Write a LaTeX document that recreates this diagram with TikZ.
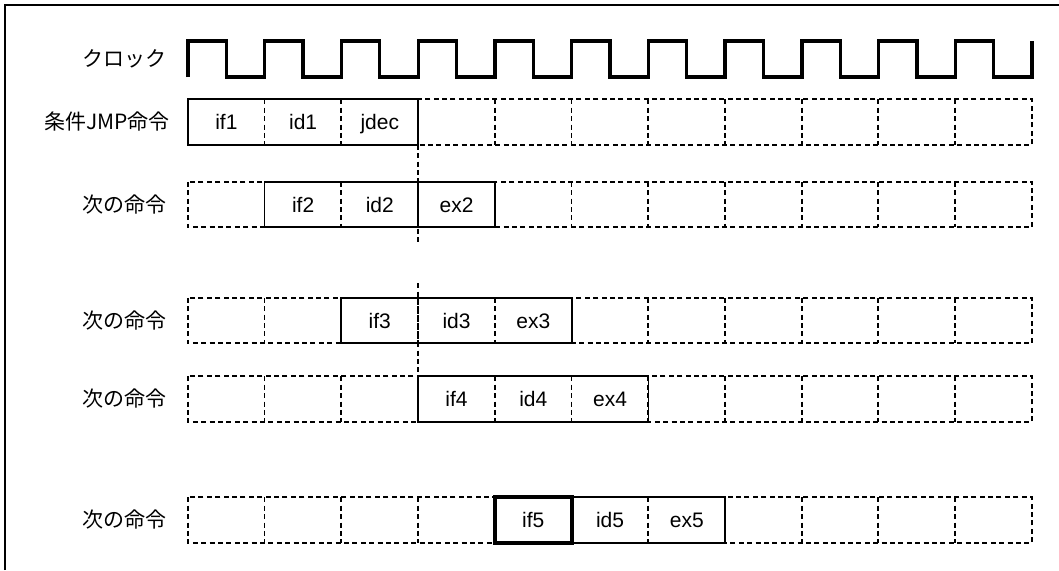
\documentclass[tikz,border=0pt]{standalone}
\usepackage{fontspec}
\usetikzlibrary{calc}
\setmainfont{Liberation Sans}
\newfontfamily\jp{Noto Sans CJK JP}
\begin{document}
\begin{tikzpicture}[x=1pt,y=-1pt,
  cell/.style={minimum width=76.73pt, minimum height=45pt, inner sep=0pt},
  dashline/.style={draw, dash pattern=on 5pt off 3.4pt, line width=1.8pt},
  stage/.style={font=\fontsize{21}{24}\selectfont, text height=15pt, text depth=0pt, inner sep=0pt},
  solidbox/.style={draw, line width=1.8pt},
  boldbox/.style={draw, line width=3.8pt},
  clock/.style={draw, line width=3.3pt, line join=miter},
  lab/.style={anchor=east, inner sep=0pt, font=\jp\fontsize{21}{24}\selectfont},
  frame/.style={draw, line width=1.4pt}]
\useasboundingbox (0,0) rectangle (1059,570);
% outer frame (only left and top edges fall inside the picture)
\draw[frame] (5,570) -- (5,5) -- (1059,5);

% clock
\node[lab] (lclk) at (167,59) {クロック};
\draw[clock] (188,77) -- (188,41)
  \foreach \k in {0,...,10} { -- ++(38.365,0) -- ++(0,36) -- ++(38.365,0) -- ++(0,-36) };

% rows of cells (dashed grid)
\foreach \r/\y in {1/122, 2/204.5, 3/320.5, 4/399, 5/520}{
  \foreach \k in {0,...,10}{
    \node[cell] (c-\r-\k) at ({188+76.73*(\k+0.5)},\y) {};
  }
  \draw[dashline] (c-\r-0.north west) rectangle (c-\r-10.south east);
  \foreach \k in {1,...,10}{
    \draw[dashline] (c-\r-\k.north west) -- (c-\r-\k.south west);
  }
}

% row labels
\node[lab] (l1) at (170,122) {条件JMP命令};
\node[lab] (l2) at (167,204.5) {次の命令};
\node[lab] (l3) at (167,320.5) {次の命令};
\node[lab] (l4) at (167,399) {次の命令};
\node[lab] (l5) at (167,520) {次の命令};

% stage texts
\node[stage] (s11) at (c-1-0) {if1};
\node[stage] (s12) at (c-1-1) {id1};
\node[stage] (s13) at (c-1-2) {jdec};
\node[stage] (s21) at (c-2-1) {if2};
\node[stage] (s22) at (c-2-2) {id2};
\node[stage] (s23) at (c-2-3) {ex2};
\node[stage] (s31) at (c-3-2) {if3};
\node[stage] (s32) at (c-3-3) {id3};
\node[stage] (s33) at (c-3-4) {ex3};
\node[stage] (s41) at (c-4-3) {if4};
\node[stage] (s42) at (c-4-4) {id4};
\node[stage] (s43) at (c-4-5) {ex4};
\node[stage] (s51) at (c-5-4) {if5};
\node[stage] (s52) at (c-5-5) {id5};
\node[stage] (s53) at (c-5-6) {ex5};

% solid outlines of the active instructions
\draw[solidbox] (c-1-0.north west) rectangle (c-1-2.south east);
\draw[solidbox] (c-2-1.north west) rectangle (c-2-3.south east);
\draw[solidbox] (c-3-2.north west) rectangle (c-3-4.south east);
\draw[solidbox] (c-4-3.north west) rectangle (c-4-5.south east);
\draw[solidbox] (c-5-4.north west) rectangle (c-5-6.south east);
\draw[boldbox] (c-5-4.north west) rectangle (c-5-4.south east);

% vertical guide at the end of jdec
\coordinate (g1) at ($(c-1-2.south east)+(0,99)$);
\coordinate (g2) at ($(c-4-3.north west)+(0,-93)$);
\draw[dashline] (c-1-2.south east) -- (g1);
\draw[dashline] (g2) -- (c-4-3.north west);
\end{tikzpicture}
\end{document}
